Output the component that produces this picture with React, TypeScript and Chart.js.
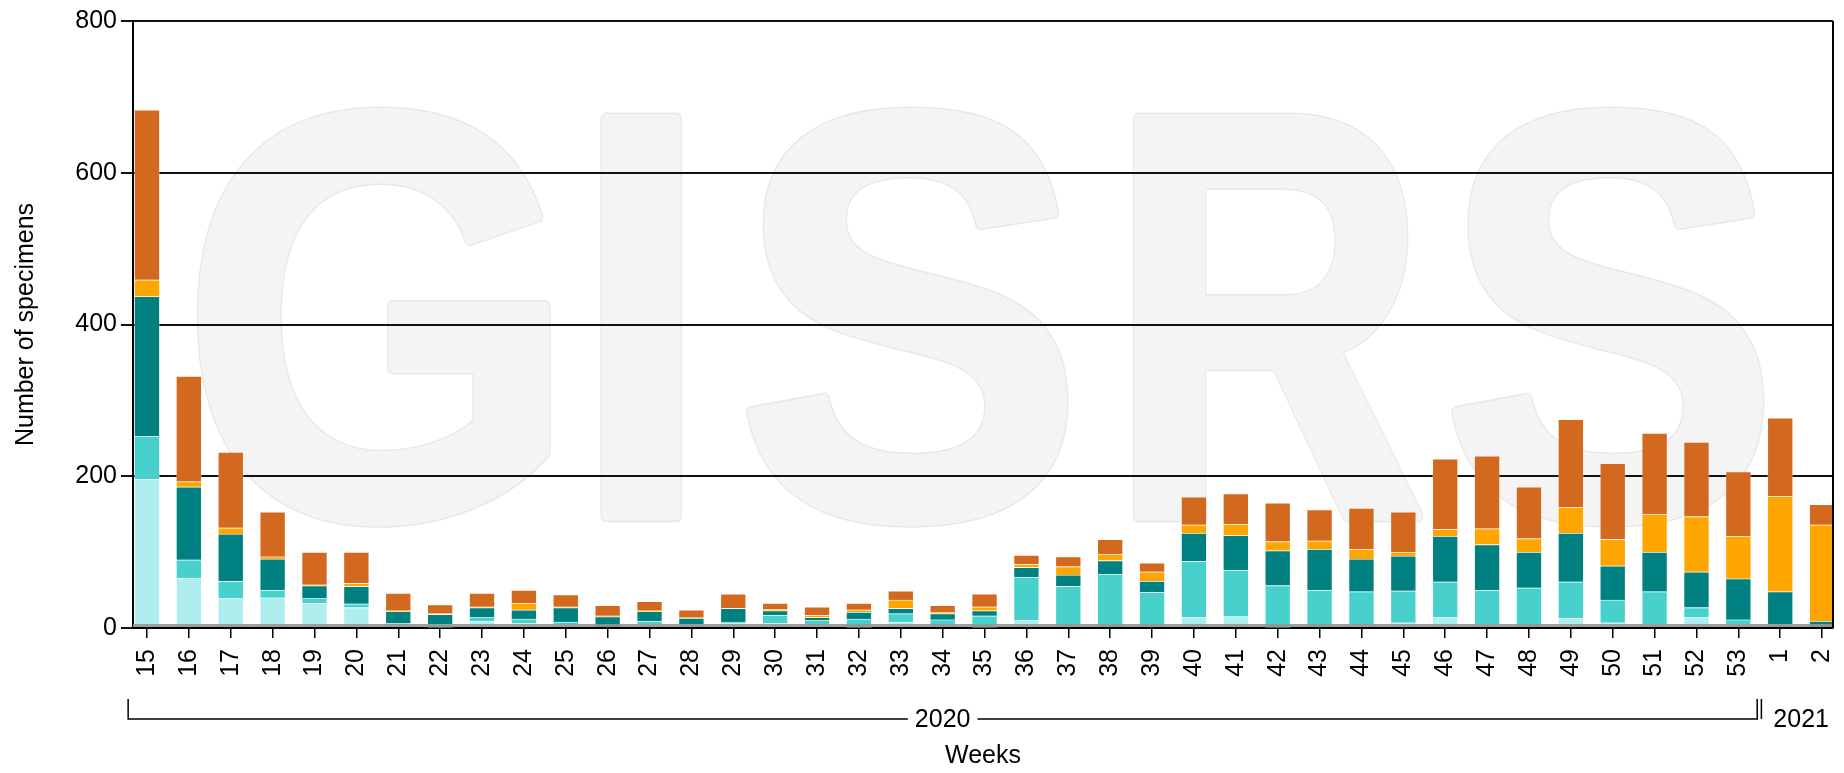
import React, { useEffect, useRef } from 'react';
import { Chart, registerables } from 'chart.js';

Chart.register(...registerables);

const FONT = "'Liberation Sans', Arial, Helvetica, sans-serif";

// Week labels (2020 weeks 15..53, then 2021 weeks 1..2)
const weeks = [
  '15', '16', '17', '18', '19', '20', '21', '22', '23', '24', '25', '26', '27', '28',
  '29', '30', '31', '32', '33', '34', '35', '36', '37', '38', '39', '40', '41', '42',
  '43', '44', '45', '46', '47', '48', '49', '50', '51', '52', '53', '1', '2',
];

// Year groups (index ranges into weeks)
const yearLabels = ['2020', '2021'];
const yearStart = [0, 39];
const yearEnd = [38, 40];

// Series values, bottom of the stack first
const paleTurquoise = [
  196, 66, 39, 40, 33, 27, 4, 1, 9, 6, 5, 0, 5, 3, 6, 6, 4, 1, 8, 2, 1,
  10, 2, 0, 0, 14, 15, 1, 0, 4, 7, 14, 5, 3, 13, 7, 5, 14, 5, 0, 0,
];
const mediumTurquoise = [
  57, 24, 23, 10, 6, 5, 2, 4, 5, 6, 3, 0, 4, 2, 2, 11, 6, 11, 11, 9, 15,
  57, 53, 71, 47, 74, 61, 55, 50, 44, 42, 47, 45, 50, 48, 30, 43, 13, 6, 5, 0,
];
const teal = [
  184, 96, 62, 41, 17, 23, 16, 13, 13, 12, 19, 15, 13, 8, 18, 6, 4, 9, 7, 8, 7,
  13, 15, 18, 15, 37, 46, 46, 54, 43, 46, 60, 60, 47, 64, 45, 52, 47, 54, 43, 9,
];
const orange = [
  22, 7, 8, 3, 1, 4, 1, 1, 1, 9, 1, 1, 1, 1, 0, 2, 3, 3, 11, 2, 5,
  4, 11, 8, 12, 11, 15, 12, 11, 13, 5, 9, 21, 18, 34, 35, 50, 73, 56, 126, 127,
];
const chocolate = [
  224, 139, 100, 59, 43, 41, 23, 12, 18, 17, 16, 14, 12, 10, 19, 8, 11, 9, 12, 9, 17,
  12, 13, 20, 12, 37, 40, 51, 41, 54, 53, 93, 96, 68, 116, 100, 107, 98, 85, 103, 27,
];

const yMin = 0;
const yMax = 800;
const yStep = 200;

const seriesNames = ['Series 1', 'Series 2', 'Series 3', 'Series 4', 'Series 5'];
const seriesValues = [paleTurquoise, mediumTurquoise, teal, orange, chocolate];
const seriesColors = ['#afeeee', '#48d1cc', '#008080', '#ffa500', '#d2691e'];

const WATERMARK = ['G', 'I', 'S', 'R', 'S'];
const WATERMARK_X = [0.1447, 0.299, 0.457, 0.6676, 0.869];
const WATERMARK_SX = [0.88, 0.85, 0.9, 0.767, 0.874];

const chromePlugin = {
  id: 'chrome',
  beforeDraw(chart: any) {
    const { ctx, chartArea: a } = chart;
    if (!a) return;
    ctx.save();
    const size = a.height * 0.95;
    ctx.font = `bold ${size}px ${FONT}`;
    ctx.textAlign = 'center';
    ctx.textBaseline = 'alphabetic';
    ctx.lineJoin = 'round';
    const base = a.top + a.height * 0.815;
    WATERMARK.forEach((ch, i) => {
      ctx.save();
      ctx.translate(a.left + a.width * WATERMARK_X[i], base);
      ctx.scale(WATERMARK_SX[i], 1);
      ctx.strokeStyle = '#e8e8e8';
      ctx.lineWidth = 13;
      ctx.strokeText(ch, 0, 0);
      ctx.strokeStyle = '#f4f4f4';
      ctx.lineWidth = 10;
      ctx.strokeText(ch, 0, 0);
      ctx.fillStyle = '#f4f4f4';
      ctx.fillText(ch, 0, 0);
      ctx.restore();
    });
    ctx.restore();
  },
  afterDatasetsDraw(chart: any) {
    const { ctx, chartArea: a } = chart;
    ctx.save();
    ctx.fillStyle = 'rgba(150,150,150,0.9)';
    ctx.fillRect(a.left, a.bottom - 4, a.right - a.left, 3);
    ctx.restore();
  },
  afterDraw(chart: any) {
    const { ctx, chartArea: a } = chart;
    const xs = chart.scales.x;
    ctx.save();
    // right frame line
    ctx.strokeStyle = '#000';
    ctx.lineWidth = 2;
    ctx.beginPath();
    ctx.moveTo(a.right, a.top);
    ctx.lineTo(a.right, a.bottom);
    ctx.stroke();

    // year brackets
    const yLine = a.bottom + 91;
    const yTop = yLine - 20;
    ctx.font = `25px ${FONT}`;
    ctx.textAlign = 'center';
    ctx.textBaseline = 'middle';
    ctx.fillStyle = '#000';
    ctx.lineWidth = 1.5;
    yearLabels.forEach((label, g) => {
      const x0 = xs.getPixelForValue(yearStart[g] - 0.45);
      let x1 = xs.getPixelForValue(yearEnd[g] + 0.45);
      let rightClipped = false;
      if (x1 > a.right) {
        x1 = a.right;
        rightClipped = true;
      }
      const cx = (xs.getPixelForValue(yearStart[g]) + xs.getPixelForValue(yearEnd[g])) / 2;
      const tw = ctx.measureText(label).width;
      const gap = 7;
      const l1 = cx - tw / 2 - gap;
      const r1 = cx + tw / 2 + gap;
      ctx.beginPath();
      ctx.moveTo(x0, yTop);
      ctx.lineTo(x0, yLine);
      if (l1 - x0 > 6) ctx.lineTo(l1, yLine);
      if (x1 - r1 > 6) {
        ctx.moveTo(r1, yLine);
        ctx.lineTo(x1, yLine);
        if (!rightClipped) ctx.lineTo(x1, yTop);
      }
      ctx.stroke();
      ctx.fillText(label, cx, yLine + 1);
    });
    ctx.restore();
  },
};

export default function App() {
  const canvasRef = useRef<HTMLCanvasElement | null>(null);

  useEffect(() => {
    document.body.style.margin = '0';
    document.body.style.overflow = 'hidden';
    const canvas = canvasRef.current;
    if (!canvas) return;
    const font = { size: 25, family: FONT };
    const chart = new Chart(canvas, {
      type: 'bar',
      data: {
        datasets: seriesValues.map((vals, s) => ({
          label: seriesNames[s],
          data: vals.map((v, i) => ({ x: i, y: v })),
          backgroundColor: seriesColors[s],
          borderColor: 'rgba(255,255,255,0.3)',
          borderWidth: 1,
          barThickness: 25.7,
        })),
      },
      options: {
        animation: false,
        responsive: true,
        maintainAspectRatio: false,
        layout: { padding: { top: 21, right: 11, left: 0, bottom: 0 } },
        plugins: { legend: { display: false }, tooltip: { enabled: false } },
        scales: {
          x: {
            type: 'linear',
            bounds: 'data',
            offset: false,
            min: -0.334,
            max: 40.26,
            stacked: true,
            afterBuildTicks: (s: any) => {
              s.ticks = weeks.map((_, i) => ({ value: i }));
            },
            afterFit: (s: any) => {
              s.height = 145;
              s.paddingLeft = 0;
              s.paddingRight = 0;
            },
            grid: {
              offset: false,
              drawOnChartArea: false,
              drawTicks: true,
              tickLength: 10,
              color: '#000',
              lineWidth: 1.5,
            },
            border: { display: true, color: '#000', width: 2 },
            ticks: {
              autoSkip: false,
              stepSize: 1,
              maxRotation: 90,
              minRotation: 90,
              padding: 11,
              font,
              color: '#000',
              callback: (v: any) => weeks[v as number] ?? '',
            },
            title: {
              display: true,
              text: 'Weeks',
              font,
              color: '#000',
              padding: { top: 0, bottom: 2 },
            },
          },
          y: {
            stacked: true,
            min: yMin,
            max: yMax,
            afterFit: (s: any) => {
              s.width = 133;
              s.paddingTop = 0;
              s.paddingBottom = 0;
            },
            ticks: { stepSize: yStep, padding: 4, font, color: '#000' },
            grid: { color: '#111', lineWidth: 2, tickLength: 12 },
            border: { display: true, color: '#000', width: 2 },
            title: {
              display: true,
              text: 'Number of specimens',
              font,
              color: '#000',
              padding: { top: 11, bottom: 0 },
            },
          },
        },
      },
      plugins: [chromePlugin],
    } as any);
    return () => chart.destroy();
  }, []);

  return (
    <div style={{ position: 'relative', width: '1844px', height: '773px' }}>
      <canvas ref={canvasRef} />
    </div>
  );
}
